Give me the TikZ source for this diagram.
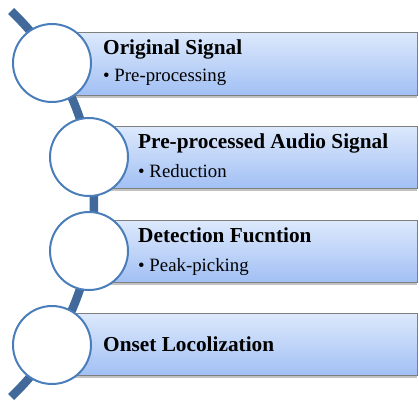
\documentclass[tikz,border=0pt]{standalone}
\usepackage{fontspec}
\setmainfont{Liberation Serif}
\usetikzlibrary{shadows}
\definecolor{arcblue}{HTML}{41699A}
\definecolor{ringblue}{HTML}{4A7EBB}
\definecolor{boxtop}{HTML}{DDE9FC}
\definecolor{boxbot}{HTML}{A2C0F4}
\definecolor{boxline}{HTML}{7F7F7F}
\begin{document}
\begin{tikzpicture}[x=1pt,y=-1pt,
  stagebox/.style={draw=boxline, line width=1pt, top color=boxtop, bottom color=boxbot,
    drop shadow={shadow xshift=0pt, shadow yshift=-3pt, fill=black!60, opacity=0.4}},
  ring/.style={circle, draw=ringblue, line width=2pt, fill=white, minimum size=78pt, inner sep=0pt},
  title/.style={anchor=base west, inner sep=0pt, font=\fontsize{21.3}{25}\selectfont\bfseries},
  sub/.style={anchor=base west, inner sep=0pt, font=\fontsize{18.8}{22}\selectfont}]
\useasboundingbox (0,0) rectangle (419,400);
% arc
\draw[arcblue, line width=8.5pt] plot[domain=-46.5:46.5, samples=80] ({-172+266*cos(\x)}, {204+266*sin(\x)});
% boxes
\path[stagebox] (52,32) rectangle (417,95);
\path[stagebox] (89,126) rectangle (417,188);
\path[stagebox] (89,220) rectangle (417,282);
\path[stagebox] (52,313) rectangle (417,375);
% circles
\node[ring] (c1) at (52,63) {};
\node[ring] (c2) at (89,157) {};
\node[ring] (c3) at (89,251) {};
\node[ring] (c4) at (52,345) {};
% texts
\node[title] (t1) at (103,54) {Original Signal};
\node[sub] (s1) at (103,81) {• Pre-processing};
\node[title] (t2) at (138,148) {Pre-processed Audio Signal};
\node[sub] (s2) at (138,177) {• Reduction};
\node[title] (t3) at (138,242) {Detection Fucntion};
\node[sub] (s3) at (138,271) {• Peak-picking};
\node[title] (t4) at (103,351) {Onset Locolization};
\end{tikzpicture}
\end{document}
